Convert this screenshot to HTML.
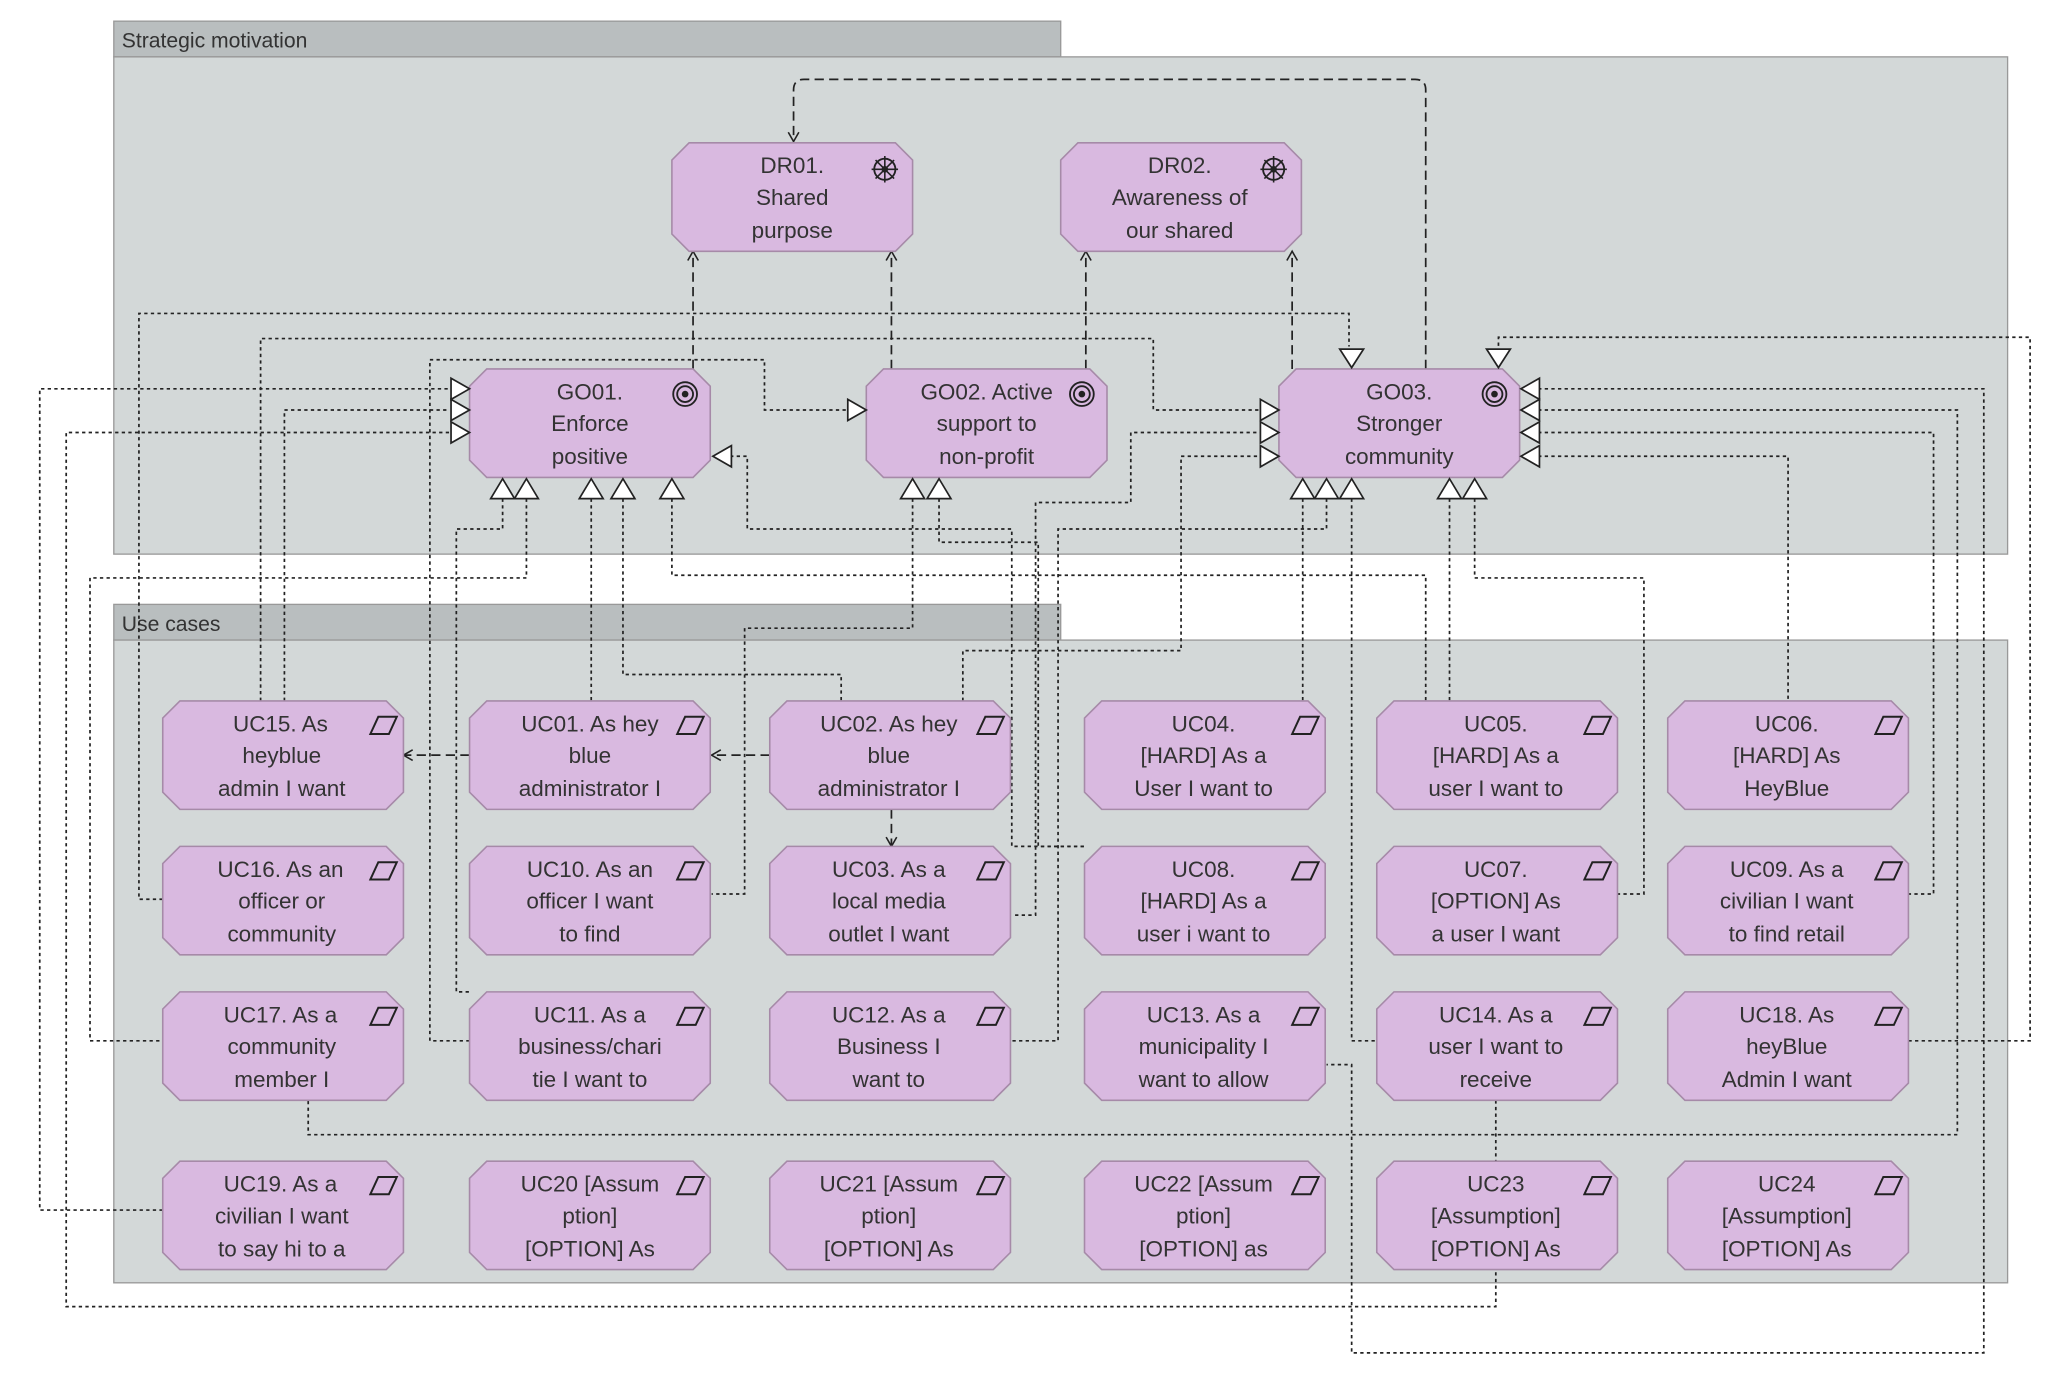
<!DOCTYPE html>
<html><head><meta charset="utf-8"><style>
html,body{margin:0;padding:0;background:#fff;}
svg{display:block;}
text{font-family:"Liberation Sans",sans-serif;font-size:17px;fill:#333;text-anchor:middle;}
.t{text-anchor:start;font-size:16px;}
.d{fill:none;stroke:#222;stroke-width:1.3;stroke-dasharray:2.5 2.5;}
.l{fill:none;stroke:#222;stroke-width:1.3;stroke-dasharray:7 4;}
.tri{fill:#fff;stroke:#222;stroke-width:1.3;}
</style></head><body>
<svg width="2050" height="1382" viewBox="0 0 1550 1045" xmlns="http://www.w3.org/2000/svg">
<defs>
<symbol id="oct" overflow="visible"><polygon points="13,0 169,0 182,13 182,69 169,82 13,82 0,69 0,13" fill="#d9b9e0" stroke="#a68aa8" stroke-width="1.2"/></symbol>
<symbol id="par" overflow="visible"><polygon points="157,25 163,12 177,12 171,25" fill="none" stroke="#222" stroke-width="1.5"/></symbol>
<symbol id="goal" overflow="visible"><circle cx="163" cy="19" r="9" fill="none" stroke="#222" stroke-width="1.4"/><circle cx="163" cy="19" r="6" fill="none" stroke="#222" stroke-width="1.4"/><circle cx="163" cy="19" r="2.5" fill="#222"/></symbol>
<symbol id="drv" overflow="visible"><circle cx="161" cy="20" r="8" fill="none" stroke="#222" stroke-width="1.4"/><path d="M151 20h20M161 10v20M154 13l14 14M168 13l-14 14" stroke="#222" stroke-width="1.2"/><circle cx="161" cy="20" r="2.5" fill="#222"/></symbol>
<marker id="ar" markerWidth="10" markerHeight="10" refX="8" refY="5" orient="auto" markerUnits="userSpaceOnUse"><path d="M1 1L8 5L1 9" fill="none" stroke="#222" stroke-width="1.2"/></marker>
</defs>
<!-- groups -->
<rect x="86" y="16" width="716" height="27" fill="#b9bebf" stroke="#999"/>
<rect x="86" y="43" width="1432" height="376" fill="#d3d8d8" stroke="#999"/>
<text class="t" x="92" y="36">Strategic motivation</text>
<rect x="86" y="457" width="716" height="27" fill="#b9bebf" stroke="#999"/>
<rect x="86" y="484" width="1432" height="486" fill="#d3d8d8" stroke="#999"/>
<text class="t" x="92" y="477">Use cases</text>

<!-- dotted connectors -->
<g class="d">
<path d="M123 680H105V237H1020V262"/>
<path d="M1443 787H1535V255H1133V262"/>
<path d="M197 530V256H872V310H955"/>
<path d="M215 530V310H340"/>
<path d="M355 787H325V272H578V310H640"/>
<path d="M123 915H30V294H340"/>
<path d="M1131 832V988H50V327H340"/>
<path d="M552 345H565V400H765V640H820"/>
<path d="M380 377V400H345V750H355"/>
<path d="M398 377V437H68V787H123"/>
<path d="M447 377V530"/>
<path d="M471 377V510H636V530"/>
<path d="M508 377V435H1078V530"/>
<path d="M690 377V475H563V676H538"/>
<path d="M710 377V410H785V640H820"/>
<path d="M728 530V492H893V345H955"/>
<path d="M955 327H855V380H783V692H765"/>
<path d="M985 377V530"/>
<path d="M1003 377V400H800V787H765"/>
<path d="M1022 377V787H1041"/>
<path d="M1096 377V530"/>
<path d="M1115 377V437H1243V676H1223"/>
<path d="M1163 294H1500V1023H1022V805H1003"/>
<path d="M1163 310H1480V858H233V832"/>
<path d="M1163 327H1462V676H1443"/>
<path d="M1163 345H1352V530"/>
</g>
<!-- dashed influence -->
<g class="l">
<path d="M524 279V190" marker-end="url(#ar)"/>
<path d="M674 279V190" marker-end="url(#ar)"/>
<path d="M821 279V190" marker-end="url(#ar)"/>
<path d="M977 279V190" marker-end="url(#ar)"/>
<path d="M1078 279V68Q1078 60 1070 60H608Q600 60 600 68V107" marker-end="url(#ar)"/>
<path d="M582 571H538" marker-end="url(#ar)"/>
<path d="M355 571H305" marker-end="url(#ar)"/>
<path d="M674 612V640" marker-end="url(#ar)"/>
</g>

<!-- nodes -->
<use href="#oct" x="508" y="108"/><use href="#drv" x="508" y="108"/>
<use href="#oct" x="802" y="108"/><use href="#drv" x="802" y="108"/>
<use href="#oct" x="355" y="279"/><use href="#goal" x="355" y="279"/>
<use href="#oct" x="655" y="279"/><use href="#goal" x="655" y="279"/>
<use href="#oct" x="967" y="279"/><use href="#goal" x="967" y="279"/>
<text x="599" y="131">DR01.</text><text x="599" y="155">Shared</text><text x="599" y="180">purpose</text>
<text x="892" y="131">DR02.</text><text x="892" y="155">Awareness of</text><text x="892" y="180">our shared</text>
<text x="446" y="302">GO01.</text><text x="446" y="326">Enforce</text><text x="446" y="351">positive</text>
<text x="746" y="302">GO02. Active</text><text x="746" y="326">support to</text><text x="746" y="351">non-profit</text>
<text x="1058" y="302">GO03.</text><text x="1058" y="326">Stronger</text><text x="1058" y="351">community</text>

<!-- triangles -->
<g class="tri">
<path d="M341 286L355 294L341 302Z"/><path d="M341 302L355 310L341 318Z"/><path d="M341 319L355 327L341 335Z"/>
<path d="M641 302L655 310L641 318Z"/>
<path d="M553 337L539 345L553 353Z"/>
<path d="M953 302L967 310L953 318Z"/><path d="M953 319L967 327L953 335Z"/><path d="M953 337L967 345L953 353Z"/>
<path d="M1164 286L1150 294L1164 302Z"/><path d="M1164 302L1150 310L1164 318Z"/><path d="M1164 319L1150 327L1164 335Z"/><path d="M1164 337L1150 345L1164 353Z"/>
<path d="M1013 264L1031 264L1022 278Z"/><path d="M1124 264L1142 264L1133 278Z"/>
<path d="M371 377L380 362L389 377Z"/><path d="M389 377L398 362L407 377Z"/><path d="M438 377L447 362L456 377Z"/><path d="M462 377L471 362L480 377Z"/><path d="M499 377L508 362L517 377Z"/>
<path d="M681 377L690 362L699 377Z"/><path d="M701 377L710 362L719 377Z"/>
<path d="M976 377L985 362L994 377Z"/><path d="M994 377L1003 362L1012 377Z"/><path d="M1013 377L1022 362L1031 377Z"/>
<path d="M1087 377L1096 362L1105 377Z"/><path d="M1106 377L1115 362L1124 377Z"/>
</g>

<!-- use case nodes -->
<g>
<use href="#oct" x="123" y="530"/><use href="#par" x="123" y="530"/>
<use href="#oct" x="355" y="530"/><use href="#par" x="355" y="530"/>
<use href="#oct" x="582" y="530"/><use href="#par" x="582" y="530"/>
<use href="#oct" x="820" y="530"/><use href="#par" x="820" y="530"/>
<use href="#oct" x="1041" y="530"/><use href="#par" x="1041" y="530"/>
<use href="#oct" x="1261" y="530"/><use href="#par" x="1261" y="530"/>
<use href="#oct" x="123" y="640"/><use href="#par" x="123" y="640"/>
<use href="#oct" x="355" y="640"/><use href="#par" x="355" y="640"/>
<use href="#oct" x="582" y="640"/><use href="#par" x="582" y="640"/>
<use href="#oct" x="820" y="640"/><use href="#par" x="820" y="640"/>
<use href="#oct" x="1041" y="640"/><use href="#par" x="1041" y="640"/>
<use href="#oct" x="1261" y="640"/><use href="#par" x="1261" y="640"/>
<use href="#oct" x="123" y="750"/><use href="#par" x="123" y="750"/>
<use href="#oct" x="355" y="750"/><use href="#par" x="355" y="750"/>
<use href="#oct" x="582" y="750"/><use href="#par" x="582" y="750"/>
<use href="#oct" x="820" y="750"/><use href="#par" x="820" y="750"/>
<use href="#oct" x="1041" y="750"/><use href="#par" x="1041" y="750"/>
<use href="#oct" x="1261" y="750"/><use href="#par" x="1261" y="750"/>
<use href="#oct" x="123" y="878"/><use href="#par" x="123" y="878"/>
<use href="#oct" x="355" y="878"/><use href="#par" x="355" y="878"/>
<use href="#oct" x="582" y="878"/><use href="#par" x="582" y="878"/>
<use href="#oct" x="820" y="878"/><use href="#par" x="820" y="878"/>
<use href="#oct" x="1041" y="878"/><use href="#par" x="1041" y="878"/>
<use href="#oct" x="1261" y="878"/><use href="#par" x="1261" y="878"/>
</g>
<g>
<text x="212" y="553">UC15. As</text><text x="213" y="577">heyblue</text><text x="213" y="602">admin I want</text>
<text x="446" y="553">UC01. As hey</text><text x="446" y="577">blue</text><text x="446" y="602">administrator I</text>
<text x="672" y="553">UC02. As hey</text><text x="672" y="577">blue</text><text x="672" y="602">administrator I</text>
<text x="910" y="553">UC04.</text><text x="910" y="577">[HARD] As a</text><text x="910" y="602">User I want to</text>
<text x="1131" y="553">UC05.</text><text x="1131" y="577">[HARD] As a</text><text x="1131" y="602">user I want to</text>
<text x="1351" y="553">UC06.</text><text x="1351" y="577">[HARD] As</text><text x="1351" y="602">HeyBlue</text>

<text x="212" y="663">UC16. As an</text><text x="213" y="687">officer or</text><text x="213" y="712">community</text>
<text x="446" y="663">UC10. As an</text><text x="446" y="687">officer I want</text><text x="446" y="712">to find</text>
<text x="672" y="663">UC03. As a</text><text x="672" y="687">local media</text><text x="672" y="712">outlet I want</text>
<text x="910" y="663">UC08.</text><text x="910" y="687">[HARD] As a</text><text x="910" y="712">user i want to</text>
<text x="1131" y="663">UC07.</text><text x="1131" y="687">[OPTION] As</text><text x="1131" y="712">a user I want</text>
<text x="1351" y="663">UC09. As a</text><text x="1351" y="687">civilian I want</text><text x="1351" y="712">to find retail</text>

<text x="212" y="773">UC17. As a</text><text x="213" y="797">community</text><text x="213" y="822">member I</text>
<text x="446" y="773">UC11. As a</text><text x="446" y="797">business/chari</text><text x="446" y="822">tie I want to</text>
<text x="672" y="773">UC12. As a</text><text x="672" y="797">Business I</text><text x="672" y="822">want to</text>
<text x="910" y="773">UC13. As a</text><text x="910" y="797">municipality I</text><text x="910" y="822">want to allow</text>
<text x="1131" y="773">UC14. As a</text><text x="1131" y="797">user I want to</text><text x="1131" y="822">receive</text>
<text x="1351" y="773">UC18. As</text><text x="1351" y="797">heyBlue</text><text x="1351" y="822">Admin I want</text>

<text x="212" y="901">UC19. As a</text><text x="213" y="925">civilian I want</text><text x="213" y="950">to say hi to a</text>
<text x="446" y="901">UC20 [Assum</text><text x="446" y="925">ption]</text><text x="446" y="950">[OPTION] As</text>
<text x="672" y="901">UC21 [Assum</text><text x="672" y="925">ption]</text><text x="672" y="950">[OPTION] As</text>
<text x="910" y="901">UC22 [Assum</text><text x="910" y="925">ption]</text><text x="910" y="950">[OPTION] as</text>
<text x="1131" y="901">UC23</text><text x="1131" y="925">[Assumption]</text><text x="1131" y="950">[OPTION] As</text>
<text x="1351" y="901">UC24</text><text x="1351" y="925">[Assumption]</text><text x="1351" y="950">[OPTION] As</text>
</g>
</svg>
</body></html>
